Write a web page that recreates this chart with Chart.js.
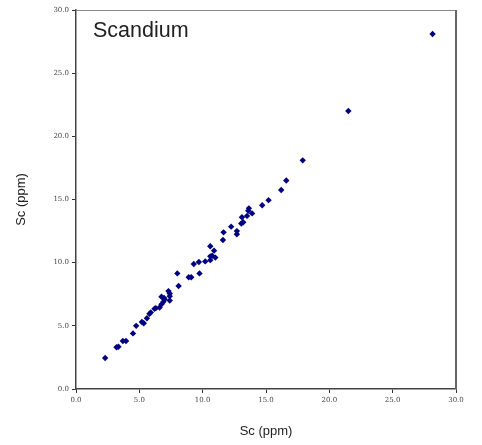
<!DOCTYPE html>
<html>
<head>
<meta charset="utf-8">
<script src="https://cdn.jsdelivr.net/npm/chart.js@4"></script>
<style>
  body { margin: 0; background: #fff; }
  #wrap { width: 482px; height: 445px; }
</style>
</head>
<body>
<div id="wrap"><canvas id="scandium" width="482" height="445"></canvas></div>
<script>
// Sc (ppm) by two methods
const scX = [
  2.3, 3.2, 3.35, 3.7, 3.95, 4.5, 4.75, 5.2, 5.35, 5.6,
  5.8, 5.9, 6.2, 6.3, 6.6, 6.75, 6.9, 7.0, 6.75, 6.95,
  7.3, 7.4, 7.4, 7.4, 8.0, 8.1, 8.9, 9.1, 9.3, 9.75,
  9.7, 10.2, 10.6, 10.6, 10.75, 11.0, 10.9, 10.6, 11.6, 11.65,
  12.25, 12.7, 12.7, 13.05, 13.2, 13.1, 13.5, 13.6, 13.65, 13.9,
  14.7, 15.2, 16.2, 16.6, 17.9, 21.5, 28.15
];
const scY = [
  2.45, 3.3, 3.35, 3.8, 3.8, 4.4, 5.0, 5.3, 5.2, 5.6,
  5.95, 6.05, 6.35, 6.4, 6.45, 6.7, 6.9, 7.1, 7.3, 7.2,
  7.75, 7.55, 7.35, 7.0, 9.15, 8.15, 8.85, 8.85, 9.9, 9.15,
  10.05, 10.1, 10.2, 10.5, 10.55, 10.4, 10.95, 11.3, 11.8, 12.4,
  12.85, 12.5, 12.25, 13.1, 13.2, 13.6, 13.7, 14.1, 14.3, 13.9,
  14.55, 14.95, 15.75, 16.5, 18.1, 22.0, 28.1
];
const axisTicks = [0, 5, 10, 15, 20, 25, 30];

const points = scX.map((x, i) => ({ x: x, y: scY[i] }));

// box around the plot + the element name inside it
const framePlugin = {
  id: 'frame',
  afterDraw(chart) {
    const { ctx, chartArea: a } = chart;
    ctx.save();
    ctx.strokeStyle = '#888';
    ctx.lineWidth = 1;
    ctx.beginPath();
    ctx.moveTo(a.left, a.top + 0.5);
    ctx.lineTo(a.right, a.top + 0.5);
    ctx.stroke();
    ctx.strokeStyle = '#666';
    ctx.lineWidth = 2;
    ctx.beginPath();
    ctx.moveTo(a.right, a.top);
    ctx.lineTo(a.right, a.bottom);
    ctx.stroke();
    ctx.fillStyle = '#222';
    ctx.font = '21.5px "Liberation Sans", Arial, sans-serif';
    ctx.textBaseline = 'alphabetic';
    ctx.fillText('Scandium', a.left + 17, a.top + 27);
    ctx.restore();
  }
};

const tickFont = { family: '"DejaVu Serif", "Liberation Serif", serif', size: 7 };
const titleFont = { family: '"Liberation Sans", Arial, sans-serif', size: 13 };

const config = {
  type: 'scatter',
  data: {
    datasets: [{
      label: 'Scandium',
      data: points,
      pointStyle: 'rectRot',
      pointRadius: 3.2,
      backgroundColor: '#000080',
      borderColor: '#000080',
      borderWidth: 0
    }]
  },
  options: {
    responsive: false,
    animation: false,
    layout: {
      padding: { left: 0, right: 26, top: 10, bottom: 0 }
    },
    plugins: {
      legend: { display: false },
      tooltip: { enabled: false }
    },
    scales: {
      x: {
        type: 'linear',
        min: 0,
        max: 30,
        afterFit: (s) => { s.height = 56; },
        afterBuildTicks: (s) => { s.ticks = axisTicks.map(v => ({ value: v })); },
        ticks: {
          font: tickFont,
          color: '#444',
          padding: 3,
          maxRotation: 0,
          callback: (v) => v.toFixed(1)
        },
        grid: { drawOnChartArea: false, drawTicks: true, tickLength: 4, color: '#333' },
        border: { display: true, color: '#444', width: 1.5 },
        title: {
          display: true,
          text: 'Sc (ppm)',
          font: titleFont,
          color: '#222',
          padding: { top: 0, bottom: 6 }
        }
      },
      y: {
        type: 'linear',
        min: 0,
        max: 30,
        afterFit: (s) => { s.width = 76; },
        afterBuildTicks: (s) => { s.ticks = axisTicks.map(v => ({ value: v })); },
        ticks: {
          font: tickFont,
          color: '#444',
          padding: 3,
          callback: (v) => v.toFixed(1)
        },
        grid: { drawOnChartArea: false, drawTicks: true, tickLength: 4, color: '#333' },
        border: { display: true, color: '#444', width: 1.5 },
        title: {
          display: true,
          text: 'Sc (ppm)',
          font: titleFont,
          color: '#222',
          padding: { top: 14, bottom: 0 }
        }
      }
    }
  },
  plugins: [framePlugin]
};

const scandiumChart = new Chart(document.getElementById('scandium'), config);
</script>
</body>
</html>
